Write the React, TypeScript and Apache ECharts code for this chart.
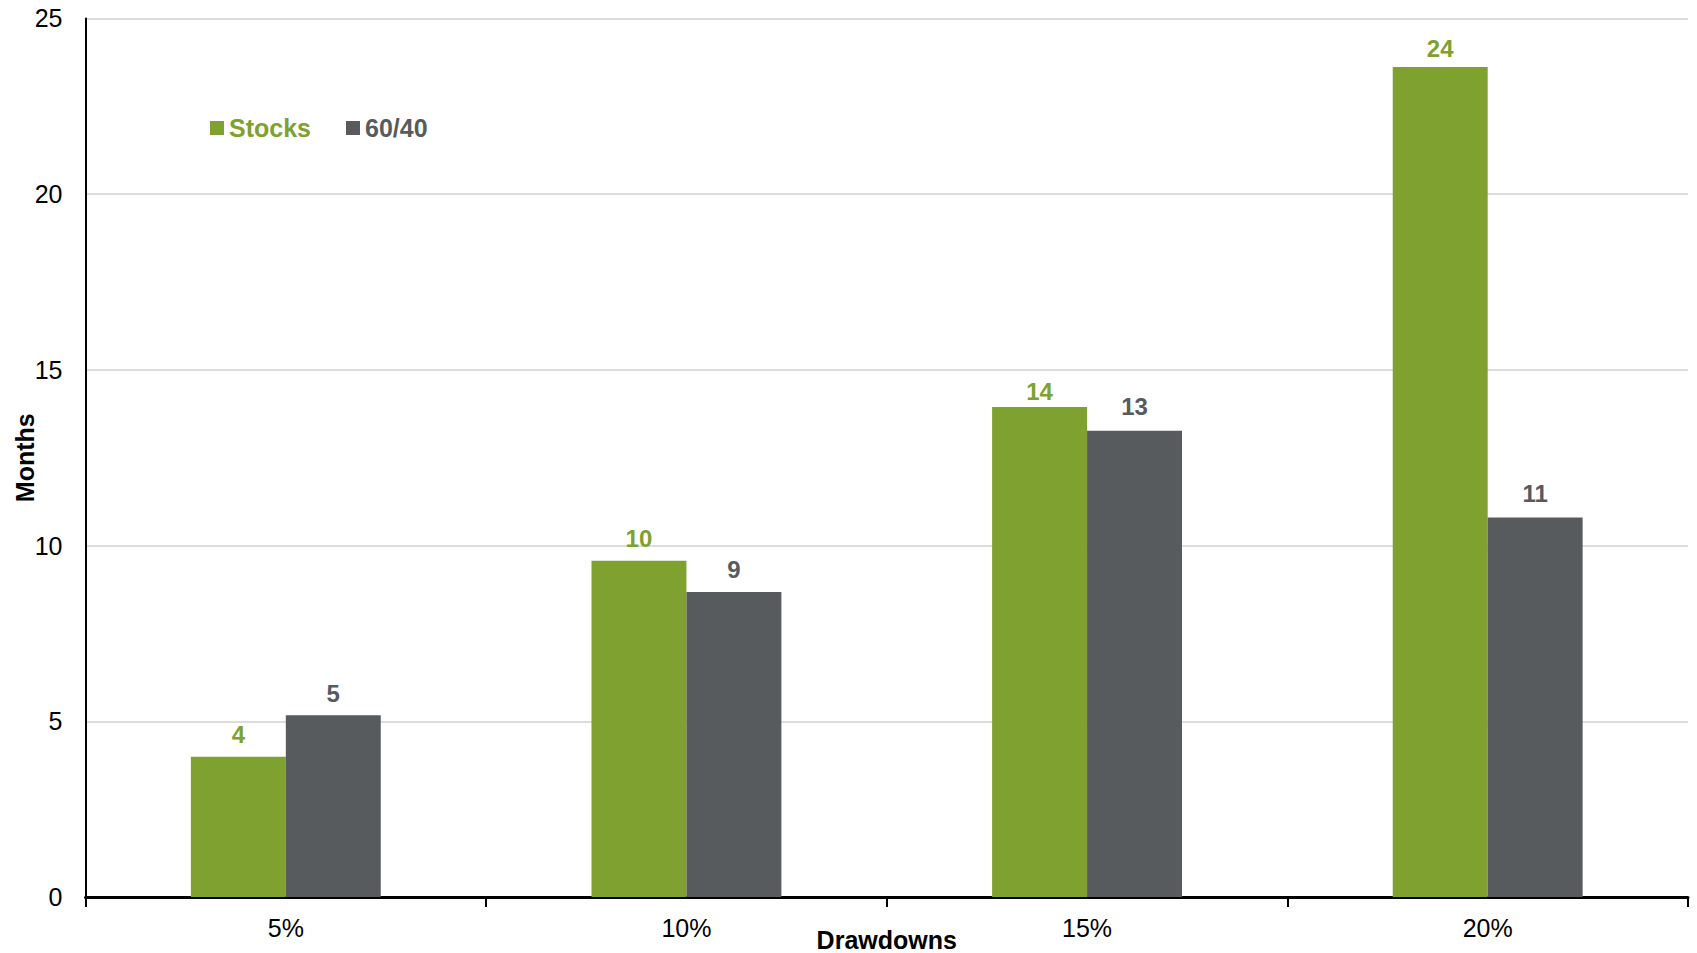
import React, { useEffect, useRef } from "react";
import * as echarts from "echarts";

const categories = ["5%", "10%", "15%", "20%"];
const stocksValues = [3.99, 9.57, 13.94, 23.62];
const sixtyFortyValues = [5.17, 8.68, 13.27, 10.8];
const yTicks = { min: 0, max: 25, interval: 5 };

const GREEN = "#7ea130";
const GRAY = "#575b5e";
const FONT = "Liberation Sans, Arial, sans-serif";

// label gaps above bars, as placed in the reference
const stocksLabelGap = [10, 10, 3.5, 6];
const sixtyFortyLabelGap = [10, 10, 12.4, 12.4];

const labelBase = {
  show: true,
  position: "top",
  fontSize: 24,
  fontWeight: "bold",
  fontFamily: FONT,
  formatter: (p: any) => String(Math.round(p.value)),
};

export default function App() {
  const ref = useRef<HTMLDivElement>(null);
  useEffect(() => {
    document.body.style.margin = "0";
    const chart = echarts.init(ref.current!, null, { renderer: "svg" });
    chart.setOption({
      animation: false,
      textStyle: { fontFamily: FONT },
      grid: { left: 85.5, right: 9, top: 18.4, bottom: 56, containLabel: false, outerBoundsMode: "none" },
      legend: {
        left: 205,
        top: 110.5,
        itemWidth: 14,
        itemHeight: 14,
        itemGap: 35,
        icon: "rect",
        data: [
          { name: "Stocks", textStyle: { color: GREEN } },
          { name: "60/40", textStyle: { color: GRAY } },
        ],
        textStyle: { fontSize: 25, fontWeight: "bold", fontFamily: FONT },
      },
      xAxis: {
        type: "category",
        data: categories,
        name: "Drawdowns",
        nameLocation: "middle",
        nameGap: 30,
        nameMoveOverlap: false,
        nameTextStyle: { fontSize: 25, fontWeight: "bold", color: "#000", fontFamily: FONT },
        axisLine: { lineStyle: { color: "#000", width: 3 } },
        axisTick: { show: true, length: 10, lineStyle: { color: "#000", width: 2 } },
        axisLabel: { fontSize: 25, color: "#000", margin: 18, fontFamily: FONT },
      },
      yAxis: {
        type: "value",
        min: yTicks.min,
        max: yTicks.max,
        interval: yTicks.interval,
        name: "Months",
        nameLocation: "middle",
        nameRotate: 90,
        nameGap: 48,
        nameMoveOverlap: false,
        nameTextStyle: { fontSize: 25, fontWeight: "bold", color: "#000", fontFamily: FONT },
        axisLine: { show: true, lineStyle: { color: "#000", width: 2 } },
        axisTick: { show: false },
        axisLabel: { fontSize: 25, color: "#000", margin: 23, fontFamily: FONT },
        splitLine: { lineStyle: { color: "#d0d0d0", width: 1.5 } },
      },
      series: [
        {
          name: "Stocks",
          type: "bar",
          data: stocksValues.map((v, i) => ({ value: v, label: { distance: stocksLabelGap[i] } })),
          barGap: "0%",
          barCategoryGap: "52.6%",
          itemStyle: { color: GREEN },
          label: { ...labelBase, color: GREEN, distance: 10 },
        },
        {
          name: "60/40",
          type: "bar",
          data: sixtyFortyValues.map((v, i) => ({ value: v, label: { distance: sixtyFortyLabelGap[i] } })),
          barGap: "0%",
          barCategoryGap: "52.6%",
          itemStyle: { color: GRAY },
          label: { ...labelBase, color: GRAY, distance: 10 },
        },
      ],
    });
    return () => chart.dispose();
  }, []);
  return <div ref={ref} style={{ width: 1697, height: 953 }} />;
}
